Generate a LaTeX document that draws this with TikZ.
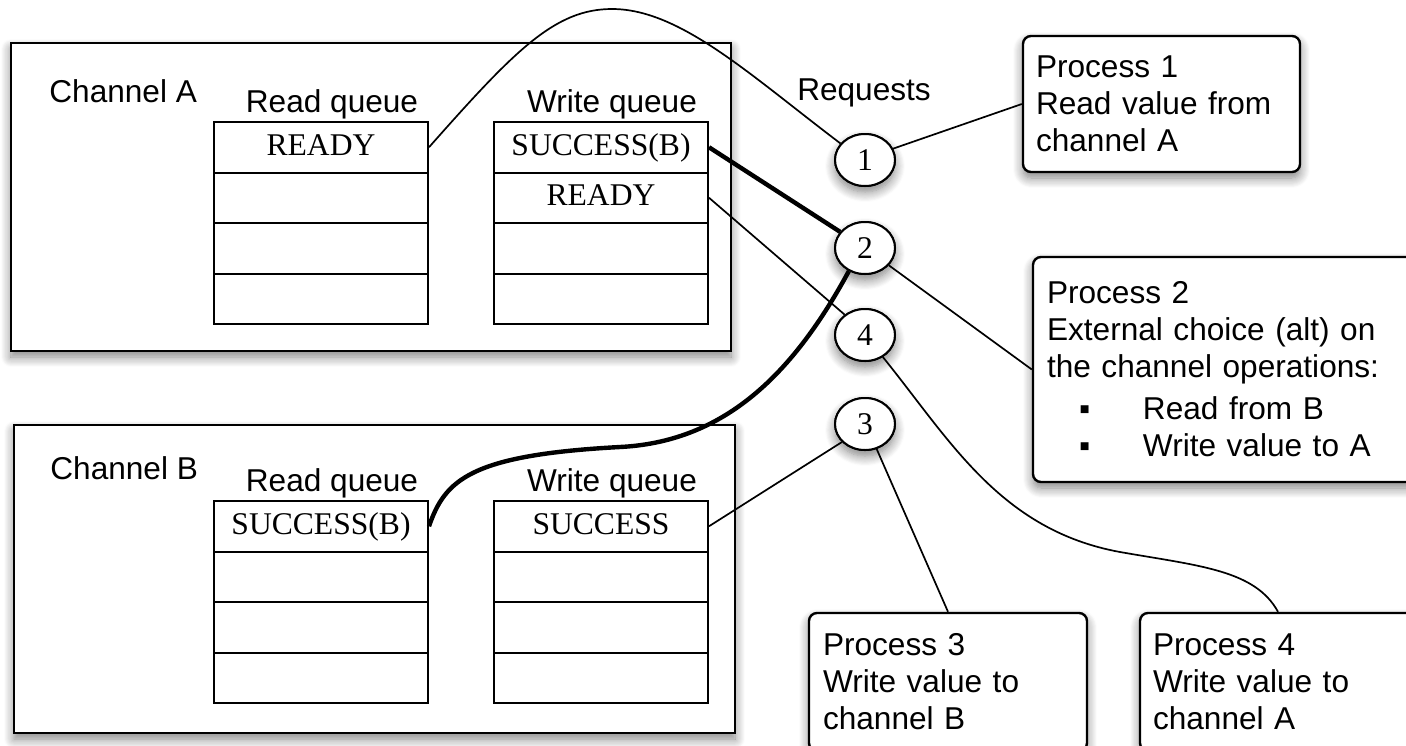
\documentclass[tikz,border=0pt]{standalone}
\usepackage{fontspec}
\setmainfont{Liberation Serif}
\newfontfamily\sansf{Liberation Sans}
\usetikzlibrary{shapes.geometric,shadows.blur}
\begin{document}
\begin{tikzpicture}[x=0.5pt,y=-0.5pt,
  every node/.style={font=\fontsize{15.8}{18.5}\selectfont},
  shad/.style={blur shadow={shadow xshift=0pt,shadow yshift=-3pt,shadow blur radius=5pt,shadow blur steps=10,shadow opacity=50}},
  chan/.style={draw,line width=1.2pt,fill=white,shad,inner sep=0pt},
  qrow/.style={draw,line width=1pt,fill=white,minimum width=107pt,minimum height=25.25pt,inner sep=0pt,text height=11.8pt,text depth=4pt},
  lbl/.style={inner sep=0pt,font=\sansf\fontsize{15.8}{18.5}\selectfont},
  reqbase/.style={ellipse,draw,line width=1pt,fill=white,minimum width=30pt,minimum height=26pt,inner sep=0pt},
  req/.style={reqbase,shad},
  proc/.style={draw,line width=1.2pt,rounded corners=4pt,fill=white,shad,align=left,
    font=\sansf\fontsize{15.8}{18.5}\selectfont},
  thin/.style={line width=0.85pt},
  thickline/.style={line width=2.2pt}
]
\useasboundingbox (0,0) rectangle (1406,745);

% channel boxes
\node[chan,minimum width=360pt,minimum height=154pt] (chA) at (371,197) {};
\node[chan,minimum width=360.5pt,minimum height=154pt] (chB) at (374.5,579) {};

% labels
\node[lbl,anchor=base west] (labA) at (49,102) {Channel A};
\node[lbl,anchor=base] (rqA) at (332,112) {Read queue};
\node[lbl,anchor=base] (wqA) at (612,112) {Write queue};
\node[lbl,anchor=base] (reqs) at (864,100) {Requests};
\node[lbl,anchor=base west] (labB) at (50,479) {Channel B};
\node[lbl,anchor=base] (rqB) at (332,491) {Read queue};
\node[lbl,anchor=base] (wqB) at (612,491) {Write queue};

% queues channel A
\node[qrow] (rA1) at (321,147.25) {READY};
\node[qrow] (rA2) at (321,197.75) {};
\node[qrow] (rA3) at (321,248.25) {};
\node[qrow] (rA4) at (321,298.75) {};
\node[qrow] (wA1) at (601,147.25) {SUCCESS(B)};
\node[qrow] (wA2) at (601,197.75) {READY};
\node[qrow] (wA3) at (601,248.25) {};
\node[qrow] (wA4) at (601,298.75) {};

% queues channel B
\node[qrow] (rB1) at (321,526.25) {SUCCESS(B)};
\node[qrow] (rB2) at (321,576.75) {};
\node[qrow] (rB3) at (321,627.25) {};
\node[qrow] (rB4) at (321,677.75) {};
\node[qrow] (wB1) at (601,526.25) {SUCCESS};
\node[qrow] (wB2) at (601,576.75) {};
\node[qrow] (wB3) at (601,627.25) {};
\node[qrow] (wB4) at (601,677.75) {};

% request ellipses
\node[req] (e1) at (865,160) {1};
\node[req] (e2) at (865,248) {2};
\node[req] (e4) at (865,335) {4};
\node[req] (e3) at (865,424) {3};

% process boxes
\node[proc,minimum width=138.5pt,minimum height=68pt,text width=125.5pt,inner xsep=6.5pt] (p1) at (1161.5,104)
  {Process 1\\Read value from\\channel A};
\node[proc,minimum width=193.5pt,minimum height=112.5pt,text width=179.5pt,inner xsep=7pt] (p2) at (1226.5,369.5)
  {Process 2\\External choice (alt) on\\the channel operations:\\[2.5pt]
   \hspace*{16pt}\makebox[32pt][l]{▪}Read from B\\
   \hspace*{16pt}\makebox[32pt][l]{▪}Write value to A};
\node[proc,minimum width=139pt,minimum height=69pt,text width=125pt,inner xsep=7pt] (p3) at (948,682)
  {Process 3\\Write value to\\channel B};
\node[proc,minimum width=138pt,minimum height=69pt,text width=125pt,inner xsep=6.5pt] (p4) at (1278,682)
  {Process 4\\Write value to\\channel A};

% connectors
\draw[thin] (rA1.east) .. controls (515,50) and (555,9) .. (612,9)
  .. controls (680,9) and (750,75) .. (e1.146);
\draw[thin] (e1.22) -- (p1.west);
\draw[thickline] (wA1.east) -- (e2.147);
\draw[thin] (wA2.east) -- (e4.135);
\draw[thin] (e2.-36) -- (p2.west);
\draw[thickline] (rB1.east) .. controls (445,480) and (470,455) .. (620,447)
  .. controls (720,442) and (790,380) .. (e2.-125);
\draw[thin] (wB1.east) -- (e3.-142);
\draw[thin] (e3.-65) -- (p3.north);
\draw[thin] (e4.-51) .. controls (950,440) and (1000,530) .. (1120,552)
  .. controls (1200,566) and (1255,570) .. (p4.north);

% redraw ellipses on top of the connector ends
\node[reqbase] (e1t) at (e1) {1};
\node[reqbase] (e2t) at (e2) {2};
\node[reqbase] (e4t) at (e4) {4};
\node[reqbase] (e3t) at (e3) {3};
\end{tikzpicture}
\end{document}
